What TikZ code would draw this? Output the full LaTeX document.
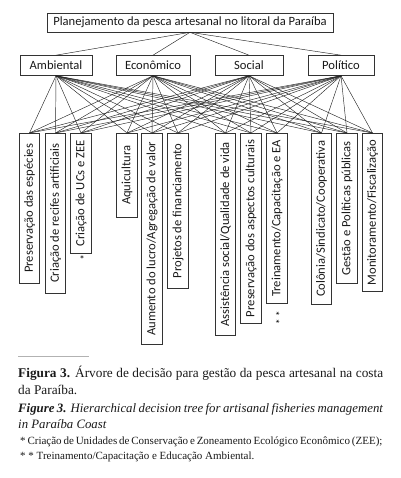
\documentclass[tikz,border=0pt]{standalone}
\usepackage{fontspec}
\setmainfont{Liberation Serif}
\newfontfamily\diagfont{Carlito}
\begin{document}
\begin{tikzpicture}[x=1pt,y=-1pt,
  box/.style={draw=black!80, line width=0.6pt, font=\diagfont\fontsize{12.6}{14}\selectfont, inner sep=0pt, minimum height=19pt, text=black!90},
  leaf/.style={box, rotate=90, anchor=east, minimum height=20.5pt},
  link/.style={draw=black!85, line width=0.45pt},
  captxt/.style={anchor=base west, inner sep=0pt, text=black!90},
]
\useasboundingbox (0,0) rectangle (400,478);
% top
\node[box, minimum width=286pt] (top) at (190,22.5) {Planejamento da pesca artesanal no litoral da Paraíba};
% level 2
\node[box, minimum width=72pt, minimum height=20pt] (amb) at (56,65.5) {Ambiental};
\node[box, minimum width=74pt, minimum height=20pt] (eco) at (153,65.5) {Econômico};
\node[box, minimum width=68pt, minimum height=20pt] (soc) at (249,65.5) {Social};
\node[box, minimum width=66pt, minimum height=20pt] (pol) at (341,65.5) {Político};
% leaves
\node[leaf, minimum width=150pt] (l1) at (29.5,133) {Preservação das espécies};
\node[leaf, minimum width=160pt] (l2) at (55.5,133) {Criação de recifes artificiais};
\node[leaf, minimum width=120pt] (l3) at (81,133) {Criação de UCs e ZEE};
\node[leaf, minimum width=84pt] (l4) at (127,133) {Aquicultura};
\node[leaf, minimum width=211pt] (l5) at (152,133) {Aumento do lucro/Agregação de valor};
\node[leaf, minimum width=155pt] (l6) at (178,133) {Projetos de financiamento};
\node[leaf, minimum width=202pt] (l7) at (225.5,133) {Assistência social/Qualidade de vida};
\node[leaf, minimum width=190pt] (l8) at (251,133) {Preservação dos aspectos culturais};
\node[leaf, minimum width=170pt] (l9) at (277,133) {Treinamento/Capacitação e EA};
\node[leaf, minimum width=171pt] (l10) at (321.5,133) {Colônia/Sindicato/Cooperativa};
\node[leaf, minimum width=150pt] (l11) at (347,133) {Gestão e Políticas públicas};
\node[leaf, minimum width=158pt] (l12) at (372.5,133) {Monitoramento/Fiscalização};
% asterisks
\node[font=\diagfont\fontsize{11}{13}\selectfont, inner sep=0pt] (s1) at (82,260) {*};
\node[font=\diagfont\fontsize{11}{13}\selectfont, inner sep=0pt, rotate=90] (s2) at (280,318) {* *};
% links
\foreach \c in {amb,eco,soc,pol} \draw[link] (top.south) -- (\c.north);
\foreach \p in {amb,eco,soc,pol}
  \foreach \l in {l1,l2,l3,l4,l5,l6,l7,l8,l9,l10,l11,l12}
    \draw[link] (\p.south) -- (\l.east);
% rule
\draw[black!30, line width=0.7pt] (18,356) -- (89,356);
% caption
\node[captxt, font=\fontsize{13.3}{15}\selectfont] (c1) at (18,377) {\makebox[365pt][s]{\textbf{Figura 3.} Árvore de decisão para gestão da pesca artesanal na costa}};
\node[captxt, font=\fontsize{13.3}{15}\selectfont] (c2) at (18,394) {da Paraíba.};
\node[captxt, font=\fontsize{12.8}{15}\selectfont] (c3) at (18,412) {\makebox[365pt][s]{\textbf{\textit{Figure 3.}} \textit{Hierarchical decision tree for artisanal fisheries management}}};
\node[captxt, font=\fontsize{12.8}{15}\selectfont] (c4) at (18,428) {\textit{in Paraíba Coast}};
\node[captxt, font=\fontsize{11}{12}\selectfont] (f1) at (20,444) {\makebox[362pt][s]{* Criação de Unidades de Conservação e Zoneamento Ecológico Econômico (ZEE);}};
\node[captxt, font=\fontsize{11}{12}\selectfont] (f2) at (20,459) {* * Treinamento/Capacitação e Educação Ambiental.};
\end{tikzpicture}
\end{document}
